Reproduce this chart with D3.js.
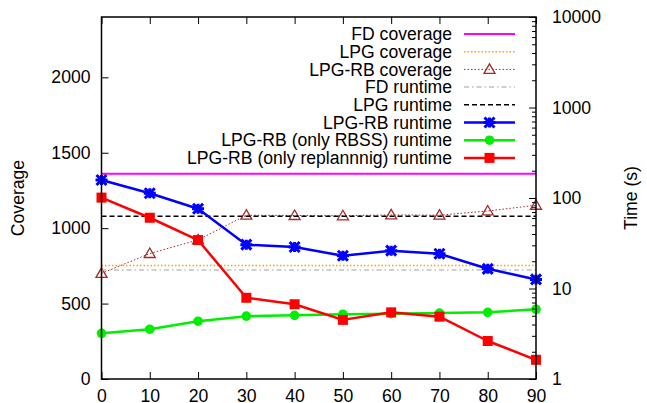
<!DOCTYPE html>
<meta charset="utf-8">
<style>
body{ margin: 0; background: white; }
svg{ font-family: "Liberation Sans", Helvetica, Arial, sans-serif; }
</style>
<body>
<div id="chart"></div>
<script src="https://cdn.jsdelivr.net/npm/d3@7"></script>
<script>

var width = 647,
    height = 403,
    pLeft = 101.5, pRight = 536, pTop = 17, pBottom = 379,
    fs = '17.6px'

// data
var xs = [0, 10, 20, 30, 40, 50, 60, 70, 80, 90]
var fdCoverage = 1360
var lpgCoverage = 752
var fdRuntime = 16
var lpgRuntime = 63
var rbCoverage = [700, 832, 922, 1086, 1084, 1082, 1088, 1086, 1114, 1152]
var rbRuntime = [158, 113, 76, 30.5, 28.7, 23, 26.2, 24.2, 16.5, 12.6]
var rbssRuntime = [3.2, 3.55, 4.35, 4.95, 5.05, 5.2, 5.27, 5.35, 5.45, 5.9]
var replanRuntime = [101, 60.5, 34.3, 7.9, 6.7, 4.5, 5.45, 4.88, 2.63, 1.63]

var xTicks = [0, 10, 20, 30, 40, 50, 60, 70, 80, 90]
var yTicks = [0, 500, 1000, 1500, 2000]
var y2Ticks = [1, 10, 100, 1000, 10000]

var legendLabels = ['FD coverage', 'LPG coverage', 'LPG-RB coverage', 'FD runtime',
  'LPG runtime', 'LPG-RB runtime', 'LPG-RB (only RBSS) runtime', 'LPG-RB (only replannnig) runtime']

var x = d3.scaleLinear().domain([0, 90]).range([pLeft, pRight])
var y = d3.scaleLinear().domain([0, 2400]).range([pBottom, pTop])
var y2 = d3.scaleLog().domain([1, 10000]).range([pBottom, pTop])

var svg = d3.select('#chart').append('svg')
    .attr('width', width).attr('height', height)

svg.append('rect').attr('width', width).attr('height', height).style('fill', 'white')

// series styles
var styles = [
  {color: '#ff00ff', w: 2, dash: null},
  {color: '#ffa500', w: 1.5, dash: '1.5,2'},
  {color: '#a52a2a', w: 1, dash: '1.5,2', mark: 'tri'},
  {color: '#c0c0c0', w: 1.5, dash: '5,3,1.5,3'},
  {color: '#000000', w: 1.5, dash: '5,3'},
  {color: '#0000ff', w: 2.5, dash: null, mark: 'star'},
  {color: '#00ee00', w: 2.5, dash: null, mark: 'circle'},
  {color: '#ff0000', w: 2.5, dash: null, mark: 'square'}
]

function marker(g, type, color, cx, cy){
  if(type == 'tri'){
    g.append('path')
      .attr('d', 'M' + cx + ',' + (cy - 5.5) + 'L' + (cx + 5.5) + ',' + (cy + 4) + 'L' + (cx - 5.5) + ',' + (cy + 4) + 'Z')
      .style('fill', 'none').style('stroke', color).style('stroke-width', 1.3)
  } else if(type == 'star'){
    var s = 5
    g.append('path')
      .attr('d', 'M' + (cx - s) + ',' + (cy - s) + 'L' + (cx + s) + ',' + (cy + s) +
        'M' + (cx - s) + ',' + (cy + s) + 'L' + (cx + s) + ',' + (cy - s) +
        'M' + (cx - s - 1) + ',' + cy + 'L' + (cx + s + 1) + ',' + cy +
        'M' + cx + ',' + (cy - s) + 'L' + cx + ',' + (cy + s))
      .style('stroke', color).style('stroke-width', 3)
  } else if(type == 'circle'){
    g.append('circle').attr('cx', cx).attr('cy', cy).attr('r', 4.8).style('fill', color)
  } else if(type == 'square'){
    g.append('rect').attr('x', cx - 5).attr('y', cy - 5).attr('width', 10).attr('height', 10).style('fill', color)
  }
}

var plot = svg.append('g')

function hline(v, scale, st){
  plot.append('line')
    .attr('x1', x(0)).attr('x2', x(90))
    .attr('y1', scale(v)).attr('y2', scale(v))
    .style('stroke', st.color).style('stroke-width', st.w)
    .style('stroke-dasharray', st.dash)
}

function series(vals, scale, st){
  var line = d3.line().x(function(d, i){ return x(xs[i]) }).y(function(d){ return scale(d) })
  plot.append('path').datum(vals).attr('d', line)
    .style('fill', 'none').style('stroke', st.color).style('stroke-width', st.w)
    .style('stroke-dasharray', st.dash).style('stroke-linejoin', 'round')
  vals.forEach(function(d, i){ marker(plot, st.mark, st.color, x(xs[i]), scale(d)) })
}

hline(fdCoverage, y, styles[0])
hline(lpgCoverage, y, styles[1])
series(rbCoverage, y, styles[2])
hline(fdRuntime, y2, styles[3])
hline(lpgRuntime, y2, styles[4])
series(rbRuntime, y2, styles[5])
series(rbssRuntime, y2, styles[6])
series(replanRuntime, y2, styles[7])

// axes
svg.append('g').attr('transform', 'translate(0,' + pBottom + ')')
    .call(d3.axisBottom(x).tickValues(xTicks).tickSizeInner(-7).tickSizeOuter(0).tickPadding(11))
svg.append('g').attr('transform', 'translate(0,' + pTop + ')')
    .call(d3.axisTop(x).tickValues(xTicks).tickSizeInner(-7).tickSizeOuter(0).tickFormat(''))
svg.append('g').attr('transform', 'translate(' + pLeft + ',0)')
    .call(d3.axisLeft(y).tickValues(yTicks).tickSizeInner(-7).tickSizeOuter(0).tickPadding(11)
      .tickFormat(d3.format('d')))
var minor = []
for(var dec = 1; dec < 10000; dec *= 10)
  for(var k = 2; k < 10; k++) minor.push(dec * k)
svg.append('g').attr('transform', 'translate(' + pRight + ',0)')
    .call(d3.axisRight(y2).tickValues(minor).tickSizeInner(-4).tickSizeOuter(0).tickFormat(''))
svg.append('g').attr('transform', 'translate(' + pRight + ',0)')
    .call(d3.axisRight(y2).tickValues(y2Ticks).tickSizeInner(-7).tickSizeOuter(0)
      .tickPadding(16).tickFormat(d3.format('d')))

svg.selectAll('.domain').remove()
svg.selectAll('.tick line').style('stroke', 'black').style('stroke-width', 1)
svg.selectAll('.tick text').style('font-size', fs).style('fill', 'black')
  .style('font-family', '"Liberation Sans", Helvetica, Arial, sans-serif')

svg.append('rect').attr('x', pLeft).attr('y', pTop)
    .attr('width', pRight - pLeft).attr('height', pBottom - pTop)
    .style('fill', 'none').style('stroke', 'black').style('stroke-width', 1.5)

svg.append('text').attr('transform', 'translate(24,198) rotate(-90)')
    .attr('text-anchor', 'middle').style('font-size', fs).text('Coverage')
svg.append('text').attr('transform', 'translate(637,198) rotate(-90)')
    .attr('text-anchor', 'middle').style('font-size', fs).text('Time (s)')

// legend
var leg = svg.append('g')
legendLabels.forEach(function(lab, i){
  var ly = 34 + i * 17.7
  var st = styles[i]
  leg.append('text').attr('x', 452).attr('y', ly).attr('dy', '0.35em')
    .attr('text-anchor', 'end').style('font-size', fs).text(lab)
  leg.append('line').attr('x1', 464).attr('x2', 515).attr('y1', ly).attr('y2', ly)
    .style('stroke', st.color).style('stroke-width', st.w).style('stroke-dasharray', st.dash)
  if(st.mark) marker(leg, st.mark, st.color, 489.5, ly)
})

</script>
</body>
